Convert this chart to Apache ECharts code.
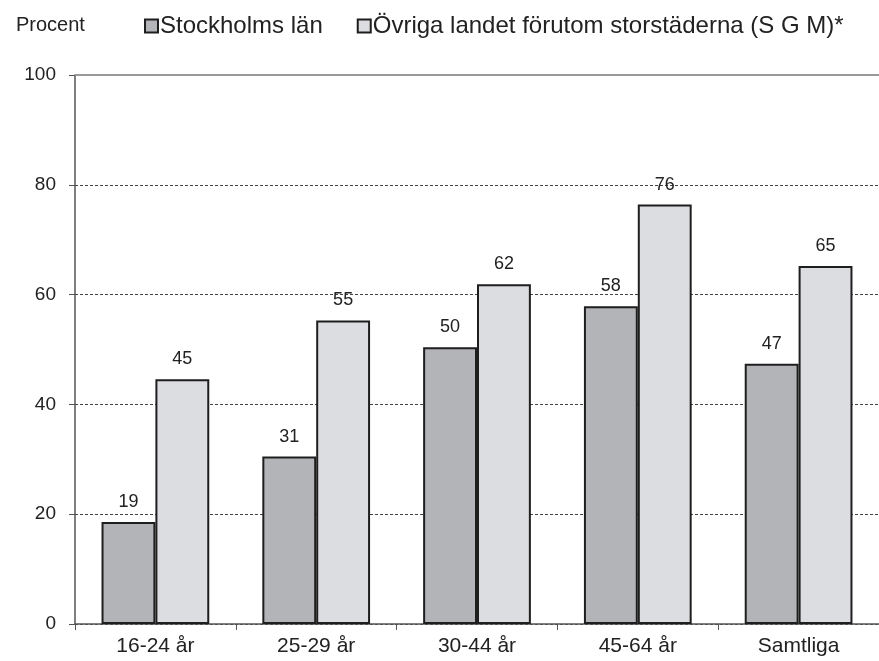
<!DOCTYPE html>
<html>
<head>
<meta charset="utf-8">
<script src="https://cdn.jsdelivr.net/npm/echarts@6/dist/echarts.min.js"></script>
<style>
  html, body { margin: 0; padding: 0; background: #fff; }
  #chart { width: 879px; height: 661px; }
</style>
</head>
<body>
<div id="chart"></div>
<script>
var categories = ['16-24 år', '25-29 år', '30-44 år', '45-64 år', 'Samtliga'];
var stockholm = [18.6, 30.5, 50.4, 57.9, 47.4];
var ovriga = [44.6, 55.3, 61.9, 76.4, 65.2];
var yTicks = [0, 20, 40, 60, 80, 100];

var chart = echarts.init(document.getElementById('chart'));

var font = 'Liberation Sans, Arial, sans-serif';

function barLabel() {
    return {
        show: true,
        position: 'top',
        distance: 11,
        color: '#222',
        fontSize: 18,
        fontFamily: font,
        formatter: function (p) { return Math.round(p.value); }
    };
}

var option = {
    animation: false,
    backgroundColor: '#fff',
    textStyle: { fontFamily: font },
    title: {
        text: 'Procent',
        left: 11,
        top: 10,
        textStyle: { fontSize: 20, fontWeight: 'normal', color: '#222', fontFamily: font }
    },
    legend: {
        left: 139,
        top: 9,
        icon: 'rect',
        itemWidth: 13,
        itemHeight: 13,
        itemGap: 34,
        textStyle: { fontSize: 24, color: '#222', fontFamily: font, padding: [0, 0, 0, -3] },
        data: ['Stockholms län', 'Övriga landet förutom storstäderna (S G M)*']
    },
    grid: { left: 75, right: -2, top: 75, bottom: 37 },
    xAxis: {
        type: 'category',
        data: categories,
        axisLine: { lineStyle: { color: '#555', width: 1.5 } },
        axisTick: { show: true, alignWithLabel: false, length: 6, lineStyle: { color: '#555' } },
        axisLabel: { fontSize: 21, color: '#222', margin: 12 }
    },
    yAxis: {
        type: 'value',
        min: 0,
        max: 100,
        interval: 20,
        axisLine: { show: true, lineStyle: { color: '#555', width: 1.5 } },
        axisTick: { show: true, length: 6, lineStyle: { color: '#555' } },
        axisLabel: {
            fontSize: 19, color: '#222', margin: 19,
            formatter: function (v) { return yTicks.indexOf(v) >= 0 ? v : ''; }
        },
        splitLine: { lineStyle: { color: '#444', type: [3, 2], width: 1 } }
    },
    series: [
        {
            name: 'Stockholms län',
            type: 'bar',
            data: stockholm,
            barGap: '0%',
            barCategoryGap: '33%',
            itemStyle: { color: '#b3b4b7', borderColor: '#1e1e1e', borderWidth: 2 },
            label: barLabel(),
            markLine: {
                silent: true,
                symbol: 'none',
                label: { show: false },
                lineStyle: { color: '#999', type: 'solid', width: 2 },
                data: [{ yAxis: 100 }]
            }
        },
        {
            name: 'Övriga landet förutom storstäderna (S G M)*',
            type: 'bar',
            data: ovriga,
            itemStyle: { color: '#dcdde0', borderColor: '#1e1e1e', borderWidth: 2 },
            label: barLabel()
        }
    ]
};

chart.setOption(option);
window.onresize = chart.resize;
</script>
</body>
</html>
